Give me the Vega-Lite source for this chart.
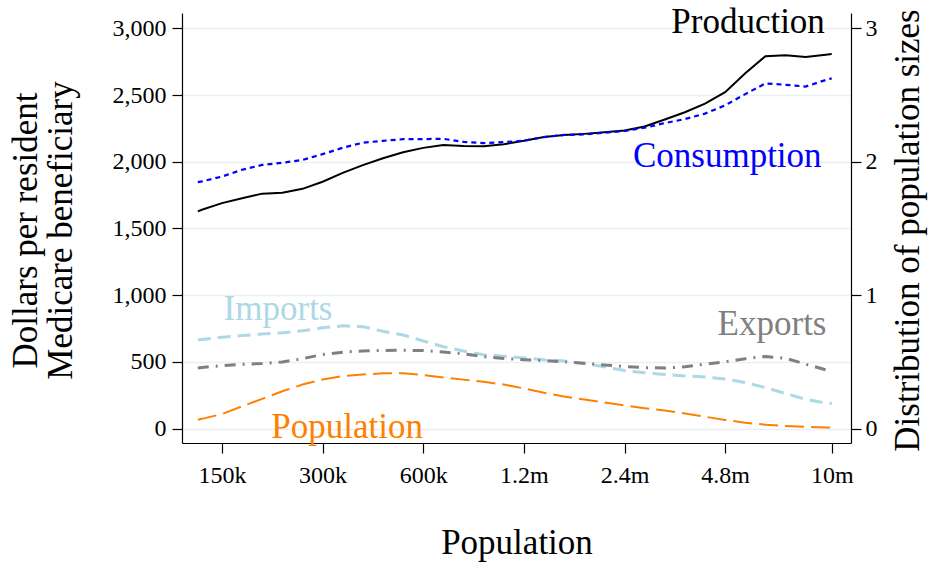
{
  "$schema": "https://vega.github.io/schema/vega-lite/v6.json",
  "width": 669,
  "height": 430,
  "autosize": {"type": "none"},
  "padding": {"left": 182, "top": 13, "right": 82, "bottom": 120},
  "background": "white",
  "config": {
    "view": {"stroke": null},
    "font": "Liberation Serif",
    "axis": {
      "labelFont": "Liberation Serif", "labelFontSize": 24, "labelColor": "#000000",
      "titleFont": "Liberation Serif", "titleFontSize": 35, "titleFontWeight": "normal", "titleColor": "#000000",
      "domainColor": "#000000", "domainWidth": 1.2, "tickColor": "#000000", "tickWidth": 1.2, "tickSize": 10,
      "grid": false, "labelFlush": false, "labelOverlap": false
    }
  },
  "datasets": {
    "curves": [
      {"pop": 127000, "Production": 1628, "Consumption": 1847, "Imports": 665, "Exports": 455, "Population": 0.067},
      {"pop": 130600, "Production": 1640, "Consumption": 1853, "Imports": 668, "Exports": 458, "Population": 0.073},
      {"pop": 150000, "Production": 1690, "Consumption": 1889, "Imports": 685, "Exports": 472, "Population": 0.109},
      {"pop": 172300, "Production": 1727, "Consumption": 1940, "Imports": 697, "Exports": 482, "Population": 0.167},
      {"pop": 197900, "Production": 1761, "Consumption": 1976, "Imports": 709, "Exports": 488, "Population": 0.223},
      {"pop": 227400, "Production": 1767, "Consumption": 1992, "Imports": 718, "Exports": 499, "Population": 0.280},
      {"pop": 261200, "Production": 1797, "Consumption": 2014, "Imports": 733, "Exports": 524, "Population": 0.330},
      {"pop": 300000, "Production": 1850, "Consumption": 2057, "Imports": 755, "Exports": 555, "Population": 0.368},
      {"pop": 344600, "Production": 1917, "Consumption": 2105, "Imports": 770, "Exports": 573, "Population": 0.393},
      {"pop": 395900, "Production": 1975, "Consumption": 2143, "Imports": 764, "Exports": 582, "Population": 0.406},
      {"pop": 454700, "Production": 2026, "Consumption": 2157, "Imports": 729, "Exports": 586, "Population": 0.414},
      {"pop": 522300, "Production": 2071, "Consumption": 2169, "Imports": 701, "Exports": 587, "Population": 0.415},
      {"pop": 600000, "Production": 2104, "Consumption": 2170, "Imports": 657, "Exports": 585, "Population": 0.402},
      {"pop": 689200, "Production": 2126, "Consumption": 2172, "Imports": 614, "Exports": 574, "Population": 0.383},
      {"pop": 791700, "Production": 2119, "Consumption": 2149, "Imports": 581, "Exports": 560, "Population": 0.367},
      {"pop": 909400, "Production": 2117, "Consumption": 2140, "Imports": 554, "Exports": 539, "Population": 0.351},
      {"pop": 1044700, "Production": 2131, "Consumption": 2147, "Imports": 543, "Exports": 525, "Population": 0.330},
      {"pop": 1200000, "Production": 2158, "Consumption": 2158, "Imports": 529, "Exports": 516, "Population": 0.301},
      {"pop": 1378400, "Production": 2185, "Consumption": 2185, "Imports": 516, "Exports": 510, "Population": 0.269},
      {"pop": 1583400, "Production": 2200, "Consumption": 2201, "Imports": 507, "Exports": 501, "Population": 0.241},
      {"pop": 1818800, "Production": 2209, "Consumption": 2205, "Imports": 487, "Exports": 490, "Population": 0.218},
      {"pop": 2089300, "Production": 2221, "Consumption": 2218, "Imports": 463, "Exports": 477, "Population": 0.195},
      {"pop": 2400000, "Production": 2234, "Consumption": 2231, "Imports": 435, "Exports": 465, "Population": 0.173},
      {"pop": 2756800, "Production": 2264, "Consumption": 2255, "Imports": 419, "Exports": 457, "Population": 0.153},
      {"pop": 3166800, "Production": 2317, "Consumption": 2290, "Imports": 405, "Exports": 454, "Population": 0.135},
      {"pop": 3637600, "Production": 2371, "Consumption": 2320, "Imports": 395, "Exports": 463, "Population": 0.113},
      {"pop": 4178500, "Production": 2436, "Consumption": 2361, "Imports": 386, "Exports": 483, "Population": 0.089},
      {"pop": 4800000, "Production": 2522, "Consumption": 2423, "Imports": 372, "Exports": 501, "Population": 0.065},
      {"pop": 5513600, "Production": 2663, "Consumption": 2507, "Imports": 345, "Exports": 524, "Population": 0.044},
      {"pop": 6333500, "Production": 2791, "Consumption": 2587, "Imports": 307, "Exports": 541, "Population": 0.029},
      {"pop": 7275200, "Production": 2799, "Consumption": 2577, "Imports": 263, "Exports": 527, "Population": 0.020},
      {"pop": 8357000, "Production": 2786, "Consumption": 2564, "Imports": 220, "Exports": 483, "Population": 0.013},
      {"pop": 9600000, "Production": 2802, "Consumption": 2613, "Imports": 191, "Exports": 440, "Population": 0.009},
      {"pop": 10000000, "Production": 2807, "Consumption": 2625, "Imports": 188, "Exports": 426, "Population": 0.007}
    ],
    "labels": [
      {"label": "Production", "pop": 5620000, "val": 2962},
      {"label": "Consumption", "pop": 4870000, "val": 1960},
      {"label": "Imports", "pop": 220700, "val": 814},
      {"label": "Exports", "pop": 6630000, "val": 701},
      {"label": "Population", "pop": 355400, "val": -73}
    ]
  },
  "encoding": {
    "x": {
      "field": "pop", "type": "quantitative",
      "scale": {"type": "log", "domain": [113900, 11420000], "nice": false},
      "axis": {
        "values": [150000, 300000, 600000, 1200000, 2400000, 4800000, 10000000],
        "labelExpr": "datum.value >= 1000000 ? (datum.value / 1000000) + 'm' : (datum.value / 1000) + 'k'",
        "labelPadding": 10,
        "title": "Population",
        "titleBaseline": "alphabetic",
        "titleY": 110
      }
    }
  },
  "layer": [
    {
      "layer": [
        {
          "data": {"name": "curves"},
          "mark": {"type": "line", "color": "#000000", "strokeWidth": 2},
          "encoding": {
            "y": {
              "field": "Production", "type": "quantitative",
              "scale": {"domain": [-108, 3115], "nice": false, "zero": false},
              "title": ["Dollars per resident", "Medicare beneficiary"],
              "axis": {
                "orient": "left",
                "values": [0, 500, 1000, 1500, 2000, 2500, 3000],
                "labelExpr": "format(datum.value, ',')",
                "grid": true, "gridColor": "#E8F0F2", "gridWidth": 1.6,
                "labelPadding": 6,
                "titleLineHeight": 35,
                "titleAngle": 270,
                "titleAlign": "center",
                "titleBaseline": "alphabetic",
                "titleX": -145.6,
                "titleY": 217
              }
            }
          }
        },
        {
          "data": {"name": "curves"},
          "mark": {"type": "line", "color": "#0000FF", "strokeWidth": 2.2, "strokeDash": [5, 4]},
          "encoding": {"y": {"field": "Consumption", "type": "quantitative"}}
        },
        {
          "data": {"name": "curves"},
          "mark": {"type": "line", "color": "#ADD8E6", "strokeWidth": 3, "strokeDash": [13, 7]},
          "encoding": {"y": {"field": "Imports", "type": "quantitative"}}
        },
        {
          "data": {"name": "curves"},
          "mark": {"type": "line", "color": "#808080", "strokeWidth": 3, "strokeDash": [11, 7, 2, 7]},
          "encoding": {"y": {"field": "Exports", "type": "quantitative"}}
        },
        {
          "data": {"name": "labels"},
          "mark": {"type": "text", "font": "Liberation Serif", "fontSize": 35, "align": "center", "baseline": "alphabetic"},
          "encoding": {
            "y": {"field": "val", "type": "quantitative"},
            "text": {"field": "label"},
            "color": {
              "field": "label", "type": "nominal", "legend": null,
              "scale": {
                "domain": ["Production", "Consumption", "Imports", "Exports", "Population"],
                "range": ["#000000", "#0000FF", "#ADD8E6", "#808080", "#FF7F00"]
              }
            }
          }
        }
      ]
    },
    {
      "data": {"name": "curves"},
      "mark": {"type": "line", "color": "#FF7F00", "strokeWidth": 2, "strokeDash": [19, 7]},
      "encoding": {
        "y": {
          "field": "Population", "type": "quantitative",
          "scale": {"domain": [-0.108, 3.115], "nice": false, "zero": false},
          "axis": {
            "orient": "right",
            "values": [0, 1, 2, 3],
            "grid": false,
            "labelPadding": 4,
            "title": "Distribution of population sizes",
            "titleAngle": 270,
            "titleAlign": "center",
            "titleBaseline": "alphabetic",
            "titleX": 67,
            "titleY": 217
          }
        }
      }
    }
  ],
  "resolve": {"scale": {"y": "independent"}}
}
